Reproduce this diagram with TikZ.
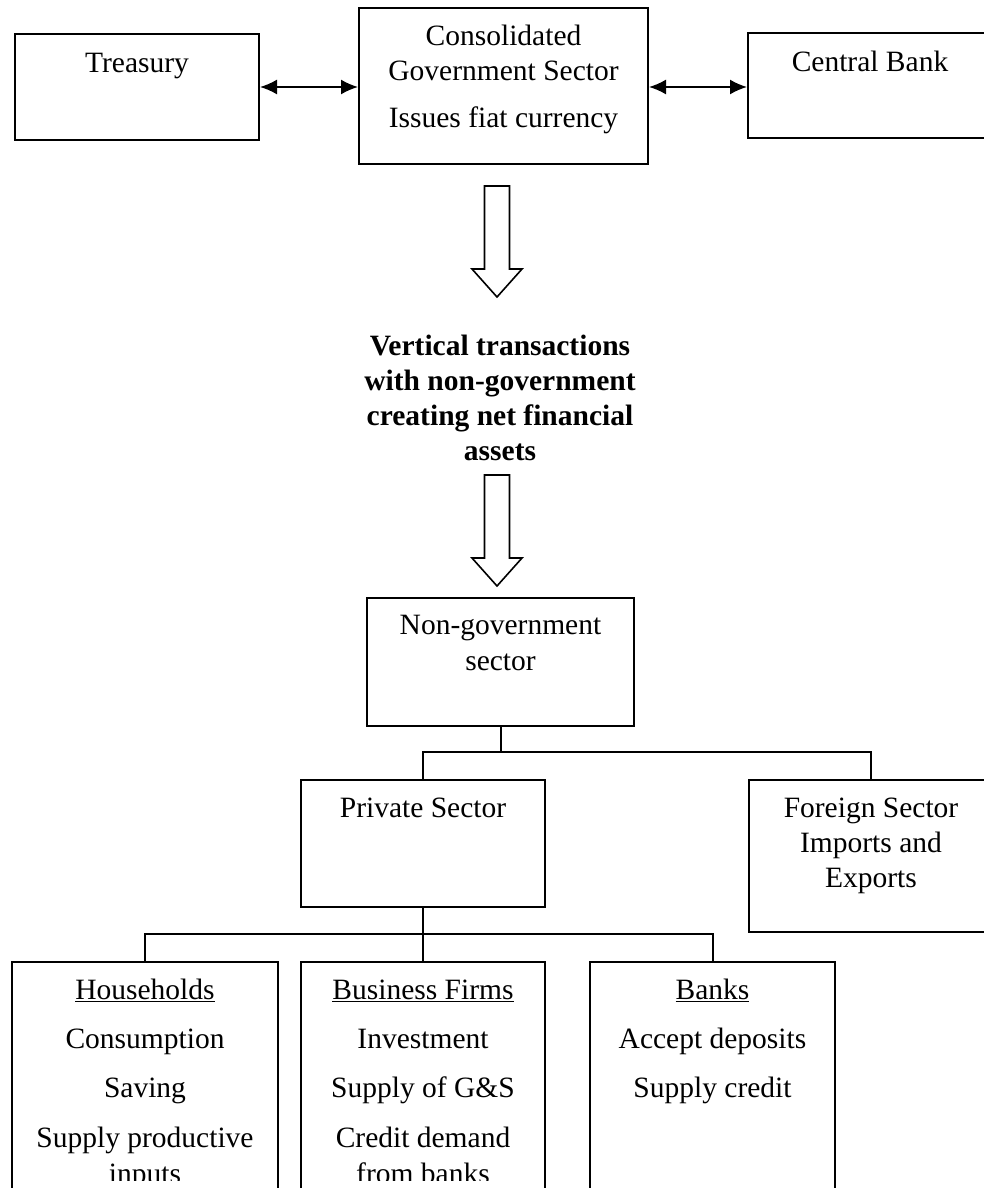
\documentclass[tikz,border=0pt]{standalone}
\usepackage{fontspec}
\setmainfont{Liberation Serif}
\usetikzlibrary{arrows.meta}
\begin{document}
\begin{tikzpicture}[x=1pt,y=-1pt,
  box/.style={draw, line width=2pt, rectangle, inner sep=0pt},
  txt/.style={anchor=base, inner sep=0pt, font=\fontsize{29.5}{35}\selectfont},
  btxt/.style={anchor=base, inner sep=0pt, font=\fontsize{29.5}{35}\selectfont\bfseries},
  link/.style={line width=2pt},
  dbl/.style={line width=1.8pt, {Latex[length=17pt,width=15pt]}-{Latex[length=17pt,width=15pt]}},
  blockdown/.pic={\draw[line width=1.6pt, line join=miter, fill=white]
      (-12.5,0) -- (12.5,0) -- (12.5,83) -- (25,83) -- (0,111) -- (-25,83) -- (-12.5,83) -- cycle;}]
\useasboundingbox (0,0) rectangle (984,1188);
\clip (0,0) rectangle (984,1188);
\fill[white] (0,0) rectangle (984,1188);

% boxes
\node[box, minimum width=244, minimum height=106] (treas) at (137,87) {};
\node[box, minimum width=289, minimum height=156] (cons) at (503.5,86) {};
\node[box, minimum width=244, minimum height=105] (cb) at (870,85.5) {};
\node[box, minimum width=267, minimum height=128] (ng) at (500.5,662) {};
\node[box, minimum width=244, minimum height=127] (ps) at (423,843.5) {};
\node[box, minimum width=244, minimum height=152] (fs) at (871,856) {};
\node[box, minimum width=266, minimum height=288] (hh) at (145,1106) {};
\node[box, minimum width=244, minimum height=288] (bf) at (423,1106) {};
\node[box, minimum width=245, minimum height=288] (bk) at (712.5,1106) {};

% texts
\node[txt] (t1) at (137,73) {Treasury};
\node[txt] (t2) at (503.5,46) {Consolidated};
\node[txt] (t3) at (503.5,81) {Government Sector};
\node[txt] (t4) at (503.5,128) {Issues fiat currency};
\node[txt] (t5) at (870,72) {Central Bank};

\node[btxt] (v1) at (500,355) {Vertical transactions};
\node[btxt] (v2) at (500,390) {with non-government};
\node[btxt] (v3) at (500,425) {creating net financial};
\node[btxt] (v4) at (500,460) {assets};

\node[txt] (n1) at (500.5,634) {Non-government};
\node[txt] (n2) at (500.5,670) {sector};
\node[txt] (p1) at (423,817) {Private Sector};
\node[txt] (f1) at (871,817) {Foreign Sector};
\node[txt] (f2) at (871,852) {Imports and};
\node[txt] (f3) at (871,887) {Exports};

\node[txt] (h1) at (145,999) {\underline{Households}};
\node[txt] (h2) at (145,1048) {Consumption};
\node[txt] (h3) at (145,1097) {Saving};
\node[txt] (h4) at (145,1147) {Supply productive};

\node[txt] (b1) at (423,999) {\underline{Business Firms}};
\node[txt] (b2) at (423,1048) {Investment};
\node[txt] (b3) at (423,1097) {Supply of G\&S};
\node[txt] (b4) at (423,1147) {Credit demand};

\node[txt] (k1) at (712.5,999) {\underline{Banks}};
\node[txt] (k2) at (712.5,1048) {Accept deposits};
\node[txt] (k3) at (712.5,1097) {Supply credit};

\begin{scope}
\clip (0,0) rectangle (984,1180);
\node[txt] (h5) at (145,1183) {inputs};
\node[txt] (b5) at (423,1183) {from banks};
\end{scope}

% connectors
\draw[dbl] (treas.east) -- (treas.east -| cons.west);
\draw[dbl] (cons.east |- treas.east) -- (cb.west |- treas.east);

\pic at (497,186) {blockdown};
\pic at (497,475) {blockdown};

\coordinate (j1) at (500.5,752);
\coordinate (j2) at (423,934);
\draw[link] (ng.south) -- (j1);
\draw[link] (ps.north) |- (j1) -| (fs.north);
\draw[link] (ps.south) -- (bf.north);
\draw[link] (hh.north) |- (j2) -| (bk.north);
\end{tikzpicture}
\end{document}
